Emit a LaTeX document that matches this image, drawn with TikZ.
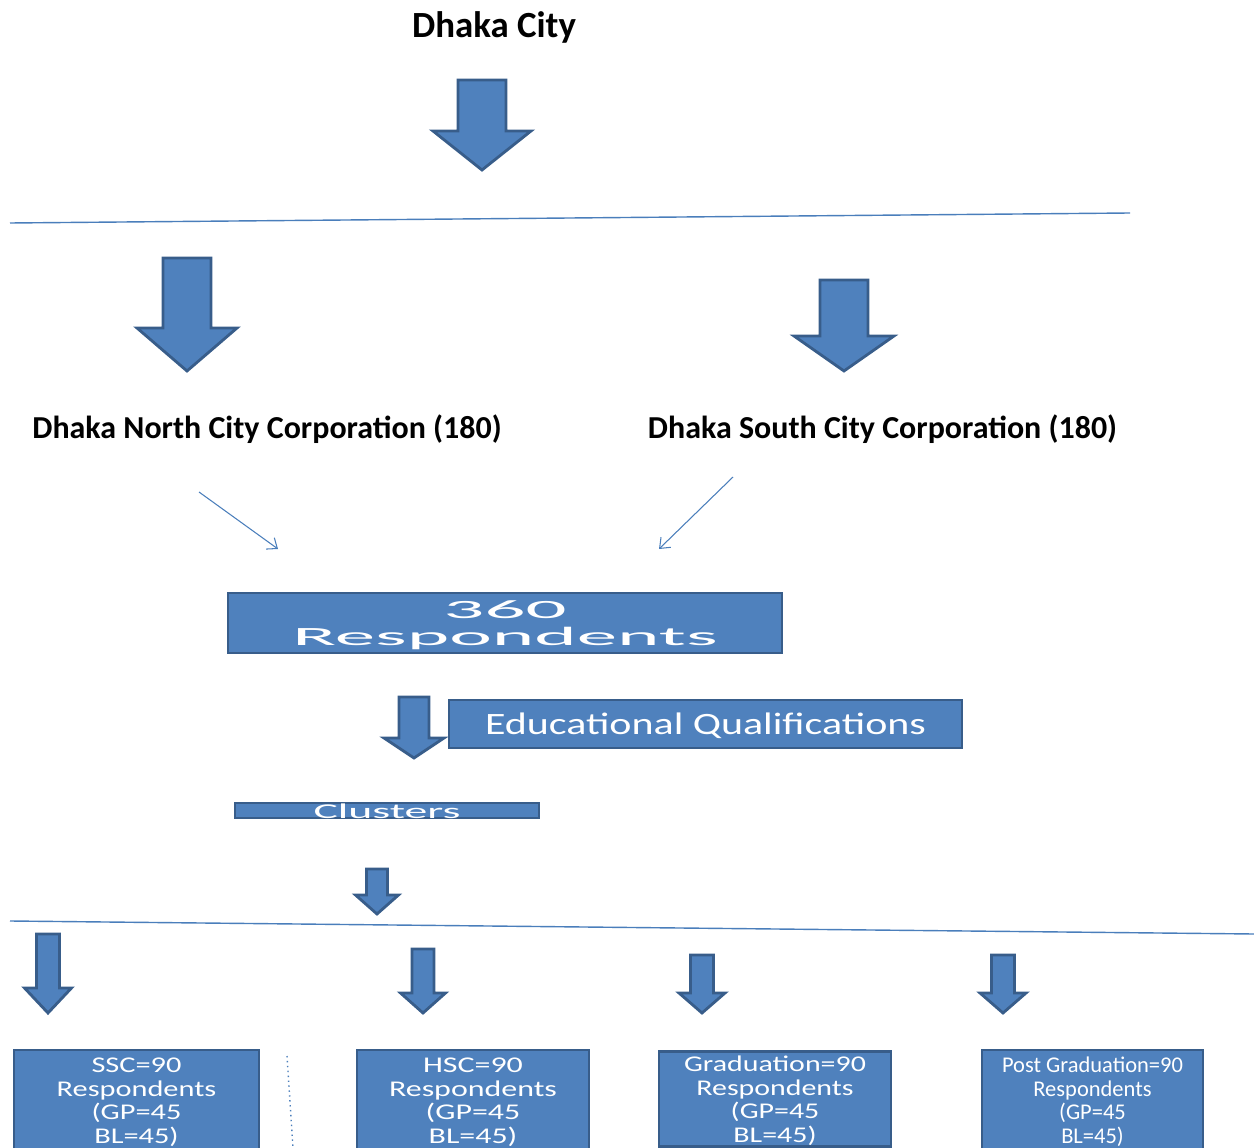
\documentclass[tikz,border=0pt]{standalone}
\usepackage{fontspec}
\setmainfont{Carlito}
\usetikzlibrary{calc}
\usetikzlibrary{arrows.meta}
\definecolor{KastenBlau}{RGB}{79,129,189}
\definecolor{KastenRand}{RGB}{56,93,138}
\definecolor{LinieBlau}{RGB}{74,126,187}
% block arrow: x, top, shaft half width, head base, head half width, tip
\newcommand{\Blockpfeil}[6]{\draw[Block] (#1-#3,#2) -- (#1+#3,#2) -- (#1+#3,#4) -- (#1+#5,#4) -- (#1,#6) -- (#1-#5,#4) -- (#1-#3,#4) -- cycle;}
% horizontally stretched lines, set a little lower
\newcommand{\Breit}[2]{\raisebox{-1.9pt}[\height][\depth]{\scalebox{#1}[1]{\begin{tabular}{@{}c@{}}#2\end{tabular}}}}

\begin{document}
\begin{tikzpicture}[x=0.02cm, y=-0.02cm,
		Pfeil/.style={draw=LinieBlau, line width=0.6pt, -{Straight Barb[length=5pt, width=8pt]}},
		Block/.style={fill=KastenBlau, draw=KastenRand, line width=1.6pt, line join=miter},
		Kasten/.style={draw=KastenRand, fill=KastenBlau, line width=1.4pt, text=white, inner sep=0pt},
		Titel/.style={font=\bfseries\fontsize{21}{25}\selectfont, anchor=base},
		Bezirk/.style={font=\bfseries\fontsize{18.2}{22}\selectfont, anchor=base},
		Unten/.style={font=\fontsize{12.8}{13.5}\selectfont}]
				\clip (0,0) rectangle (1254,1148);
				\node[Titel] (city) at (494,38) {Dhaka City};
				\Blockpfeil{482}{80}{24}{131}{49}{170}
				\draw[LinieBlau, line width=0.8pt] (10,223) -- (1130,213);
				\Blockpfeil{187}{258}{24}{328}{50}{371}
				\Blockpfeil{844}{280}{24}{336}{50}{371}
				\node[Bezirk] (north) at (267,439) {Dhaka North City Corporation (180)};
				\node[Bezirk] (south) at (882.5,439) {Dhaka South City Corporation (180)};
				\coordinate (n1) at (199,492);
				\coordinate (n2) at (278,549);
				\coordinate (s1) at (733,477);
				\coordinate (s2) at (659,549);
				\draw[Pfeil] (n1) -- (n2);
				\draw[Pfeil] (s1) -- (s2);
				\node[Kasten, minimum width=11.08cm, minimum height=1.2cm, font=\fontsize{15}{15.4}\selectfont] (resp) at (505,623) {\Breit{3.07}{360\\Respondents}};
				\Blockpfeil{414}{697}{15}{738}{30}{758}
				\node[Kasten, minimum width=10.26cm, minimum height=0.96cm, font=\fontsize{17.7}{20}\selectfont] (bildung) at (705.5,724) {\Breit{1.35}{Educational Qualifications}};
				\node[Kasten, minimum width=6.08cm, minimum height=0.3cm] (clus) at (387,810.5) {};
				\node[text=white, anchor=base, inner sep=0pt, font=\fontsize{12}{12}\selectfont] (clustext) at (387,818) {\scalebox{2.17}[1]{Clusters}};
				\Blockpfeil{377}{869}{10.5}{895}{21.5}{914}
				\draw[LinieBlau, line width=0.8pt] (10,921) -- (1254,934);
				\Blockpfeil{48}{934}{11.5}{988}{23.5}{1013}
				\Blockpfeil{423}{949}{11}{993}{22.5}{1013}
				\Blockpfeil{702}{955}{11.5}{993}{23}{1013}
				\Blockpfeil{1003}{955}{11.5}{993}{23}{1013}
				\node[Kasten, Unten, minimum width=4.9cm, minimum height=2cm] (ssc) at (136.5,1100) {\Breit{1.35}{SSC=90\\Respondents\\(GP=45\\BL=45)}};
				\node[Kasten, Unten, minimum width=4.64cm, minimum height=2cm] (hsc) at (473,1100) {\Breit{1.42}{HSC=90\\Respondents\\(GP=45\\BL=45)}};
				\node[Kasten, Unten, minimum width=4.64cm, minimum height=1.84cm] (grad) at (775,1099) {\Breit{1.33}{Graduation=90\\Respondents\\(GP=45\\BL=45)}};
				\node[Kasten, Unten, minimum width=4.42cm, minimum height=2cm] (post) at (1092.5,1100) {\Breit{1}{Post Graduation=90\\Respondents\\(GP=45\\BL=45)}};
				\draw[LinieBlau, dotted, line width=0.8pt] (287,1056) -- (293,1148);
			\end{tikzpicture}
\end{document}
